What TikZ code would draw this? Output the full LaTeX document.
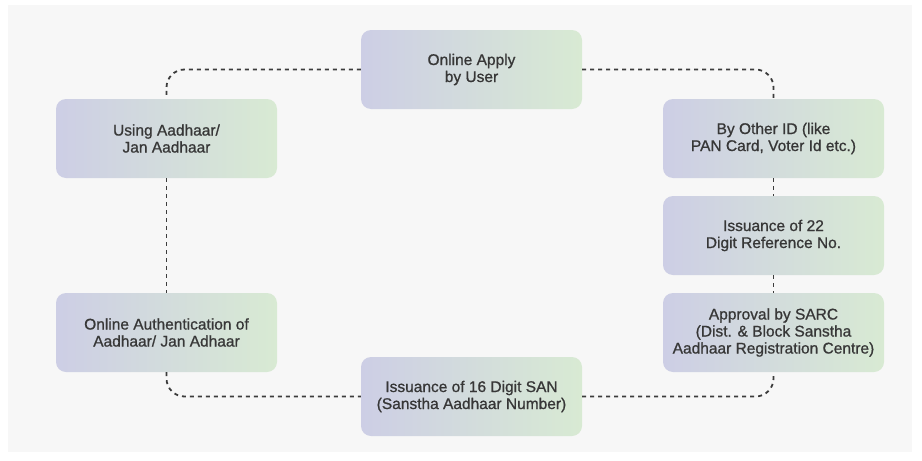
\documentclass[tikz,border=0pt]{standalone}
\usepackage{fontspec}
\setmainfont[FakeBold=0.9]{Liberation Sans}
\usetikzlibrary{positioning}
\definecolor{panelgray}{RGB}{247,247,247}
\definecolor{boxleft}{RGB}{205,206,229}
\definecolor{boxright}{RGB}{216,234,211}
\definecolor{textgray}{RGB}{55,55,55}
\definecolor{linkgray}{RGB}{60,60,60}

\begin{document}
\begin{tikzpicture}[x=1pt,y=-1pt,
    stepbox/.style={minimum width=221pt,minimum height=79pt,rounded corners=10pt,
      left color=boxleft,right color=boxright,text=textgray,align=center,
      font=\fontsize{15.5}{17}\selectfont,inner sep=0pt},
    link/.style={draw=linkgray,line width=1.8pt,dash pattern=on 4pt off 4pt,rounded corners=18pt}]
    \useasboundingbox (0,0) rectangle (922,461);
    \fill[panelgray] (8,5) rectangle (912,452);
    % the steps
    \node[stepbox] (apply) at (471.5,69.5) {Online Apply\\by User};
    \node[stepbox] (aadhaar) at (166.5,138.5) {Using Aadhaar/\\Jan Aadhaar};
    \node[stepbox] (auth) at (166.5,332.5) {Online Authentication of\\Aadhaar/ Jan Adhaar};
    \node[stepbox] (otherid) at (773.5,138.5) {By Other ID (like\\PAN Card, Voter Id etc.)};
    \node[stepbox] (refno) at (773.5,235.5) {Issuance of 22\\Digit Reference No.};
    \node[stepbox] (sarc) at (773.5,332.5) {Approval by SARC\\(Dist. \& Block Sanstha\\Aadhaar Registration Centre)};
    \node[stepbox] (san) at (471.5,396.5) {Issuance of 16 Digit SAN\\(Sanstha Aadhaar Number)};
    % dotted links
    \draw[link] (apply.west) -| (aadhaar.north);
    \draw[link] (apply.east) -| (otherid.north);
    \draw[link] (aadhaar.south) -- (auth.north);
    \draw[link] (otherid.south) -- (refno.north);
    \draw[link] (refno.south) -- (sarc.north);
    \draw[link] (auth.south) |- (san.west);
    \draw[link] (san.east) -| (sarc.south);
\end{tikzpicture}
\end{document}
